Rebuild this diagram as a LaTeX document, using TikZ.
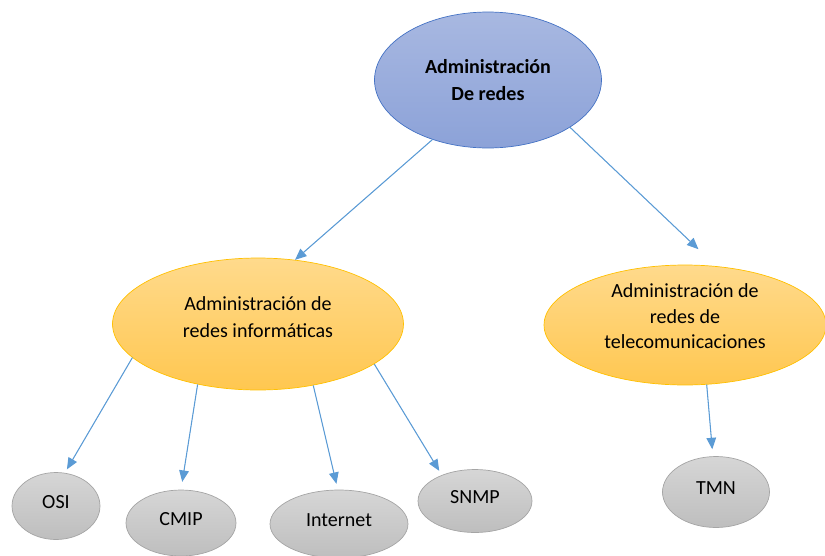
\documentclass[tikz,border=0pt]{standalone}
\usepackage{fontspec}
\setmainfont{Carlito}
\usepackage{tikz}
\usetikzlibrary{shapes.geometric, arrows.meta}
\definecolor{raizfill}{RGB}{168, 184, 225}
\definecolor{raizfillb}{RGB}{140, 162, 216}
\definecolor{raizline}{RGB}{68, 114, 196}
\definecolor{ramafill}{RGB}{255, 218, 140}
\definecolor{ramafillb}{RGB}{255, 199, 80}
\definecolor{ramaline}{RGB}{255, 192, 0}
\definecolor{hojafill}{RGB}{214, 214, 214}
\definecolor{hojafillb}{RGB}{190, 190, 190}
\definecolor{hojaline}{RGB}{165, 165, 165}
\definecolor{flechacolor}{RGB}{91, 155, 213}

\begin{document}
\begin{tikzpicture}[
  x=0.02cm, y=-0.02cm,
  font=\fontsize{11.4}{14.5}\selectfont,
  elipse/.style={
    ellipse, draw, align=center, inner sep=0pt
  },
  raiz/.style={elipse, draw=raizline, top color=raizfill, bottom color=raizfillb,
    minimum width=4.54cm, minimum height=2.72cm, font=\fontsize{11.4}{15}\selectfont\bfseries},
  rama/.style={elipse, draw=ramaline, top color=ramafill, bottom color=ramafillb},
  hoja/.style={elipse, draw=hojaline, top color=hojafill, bottom color=hojafillb},
  flecha/.style={-{Triangle[length=6.5pt,width=5.5pt]}, draw=flechacolor, fill=flechacolor, line width=0.6pt}
]
\useasboundingbox (0,0) rectangle (825,555);

% nodos
\node[raiz] (red) at (488,80) {Administración\\De redes};
\node[rama, minimum width=5.82cm, minimum height=2.64cm] (info) at (258,324)
  {Administración de\\[1pt]redes informáticas\\[-6.5pt]};
\node[rama, minimum width=5.64cm, minimum height=2.4cm] (tele) at (685,325)
  {Administración de\\redes de\\telecomunicaciones\\[-4.3pt]};

\node[hoja, minimum width=1.76cm, minimum height=1.34cm] (osi) at (56,506) {OSI\\[-10pt]};
\node[hoja, minimum width=2.2cm, minimum height=1.32cm] (cmip) at (181,523) {CMIP\\[-10pt]};
\node[hoja, minimum width=2.76cm, minimum height=1.36cm] (inet) at (339,524) {Internet\\[-10pt]};
\node[hoja, minimum width=2.28cm, minimum height=1.26cm] (snmp) at (475,501) {SNMP\\[-10pt]};
\node[hoja, minimum width=2.14cm, minimum height=1.42cm] (tmn) at (716,492) {TMN\\[-10pt]};

% conectores
\draw[flecha] (red.227) -- (info.60);
\draw[flecha, shorten >=14pt] (red.330) -- (tele.62);
\draw[flecha, shorten >=2.3pt] (info.195) -- (osi.75);
\draw[flecha, shorten >=4.5pt] (info.225) -- (cmip.90);
\draw[flecha, shorten >=3.4pt] (info.312) -- (inet.92);
\draw[flecha, shorten >=2.8pt] (info.341) -- (snmp.142);
\draw[flecha, shorten >=4pt] (tele.290) -- (tmn.95);
\end{tikzpicture}
\end{document}
